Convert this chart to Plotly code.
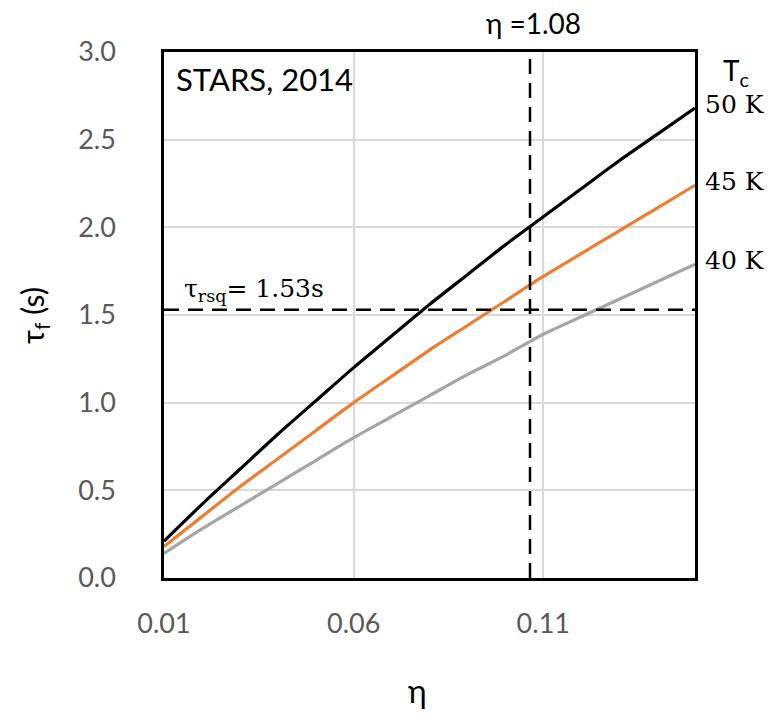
import plotly.graph_objects as go

eta = [0.01, 0.02, 0.03, 0.04, 0.05, 0.06, 0.07, 0.08, 0.09, 0.10, 0.11, 0.12, 0.13, 0.14, 0.15]
tau_50K = [0.21, 0.42, 0.62, 0.82, 1.01, 1.20, 1.38, 1.56, 1.73, 1.90, 2.06, 2.22, 2.38, 2.53, 2.68]
tau_45K = [0.18, 0.35, 0.52, 0.68, 0.84, 1.00, 1.15, 1.30, 1.44, 1.58, 1.72, 1.85, 1.98, 2.11, 2.24]
tau_40K = [0.14, 0.28, 0.41, 0.54, 0.67, 0.80, 0.92, 1.04, 1.16, 1.27, 1.39, 1.49, 1.59, 1.69, 1.79]
series_names = ["50 K", "45 K", "40 K"]
series_colors = ["#000000", "#ED7D31", "#A5A5A5"]

x_ticks = [0.01, 0.06, 0.11]
x_tick_text = ["0.01", "0.06", "0.11"]
y_ticks = [0.0, 0.5, 1.0, 1.5, 2.0, 2.5, 3.0]
y_tick_text = ["0.0", "0.5", "1.0", "1.5", "2.0", "2.5", "3.0"]

eta_mark = 0.1065
tau_rsq = 1.53

fig = go.Figure()
for ys, name, col in zip([tau_50K, tau_45K, tau_40K], series_names, series_colors):
    fig.add_trace(go.Scatter(x=eta, y=ys, mode="lines", name=name,
                             line=dict(color=col, width=3.2, shape="spline", smoothing=0.8),
                             showlegend=False))

# reference dashed lines
fig.add_trace(go.Scatter(x=[eta[0], eta[-1]], y=[tau_rsq, tau_rsq], mode="lines",
                         line=dict(color="black", width=2.5, dash="15px,9px"), showlegend=False))
fig.add_trace(go.Scatter(x=[eta_mark, eta_mark], y=[0, 3], mode="lines",
                         line=dict(color="black", width=2.5, dash="15px,9px"), showlegend=False))

serif = "DejaVu Serif"
sans = "Lato"

annotations = [
    dict(x=0.0, y=1.0, xref="paper", yref="paper", xanchor="left", yanchor="top",
         xshift=10, yshift=-6, text="STARS, 2014", showarrow=False,
         font=dict(family=sans, size=31, color="black")),
    dict(x=eta_mark, y=1.0, xref="x", yref="paper", xanchor="center", yanchor="bottom",
         yshift=10, xshift=3, text="η =1.08", showarrow=False,
         font=dict(family=sans, size=28, color="black")),
    dict(x=eta[0], y=tau_rsq, xref="x", yref="y", xanchor="left", yanchor="bottom",
         xshift=18, yshift=2, text="τ<sub>rsq</sub>= 1.53s", showarrow=False,
         font=dict(family=serif, size=25, color="black")),
    dict(x=1.0, y=1.0, xref="paper", yref="paper", xanchor="left", yanchor="middle",
         xshift=26, yshift=-20, text="T<sub>c</sub>", showarrow=False,
         font=dict(family=sans, size=28, color="black")),
    dict(x=-0.245, y=0.5, xref="paper", yref="paper", xanchor="center", yanchor="middle",
         text="τ<sub>f</sub> (s)", textangle=-90, showarrow=False,
         font=dict(family=sans, size=30, color="black")),
    dict(x=0.5, y=0, xref="paper", yref="paper", xanchor="center", yanchor="middle",
         yshift=-112, xshift=-12, text="η", showarrow=False,
         font=dict(family=sans, size=32, color="black")),
]
for ys, name in zip([tau_50K, tau_45K, tau_40K], series_names):
    annotations.append(dict(x=eta[-1], y=ys[-1], xref="x", yref="y", xanchor="left",
                            yanchor="middle", xshift=8, yshift=4, text=name, showarrow=False,
                            font=dict(family=serif, size=25, color="black")))

fig.update_layout(
    width=771, height=713,
    margin=dict(l=164, r=76, t=52, b=135),
    plot_bgcolor="white", paper_bgcolor="white",
    annotations=annotations,
    xaxis=dict(range=[0.01, 0.15], tickvals=x_ticks, ticktext=x_tick_text,
               showgrid=True, gridcolor="#D9D9D9", gridwidth=1.5,
               showline=True, linecolor="black", linewidth=2.5, mirror=True,
               zeroline=False, ticks="", ticklabelstandoff=20,
               tickfont=dict(family=sans, size=27, color="#595959")),
    yaxis=dict(range=[0, 3], tickvals=y_ticks, ticktext=y_tick_text,
               showgrid=True, gridcolor="#D9D9D9", gridwidth=1.5,
               showline=True, linecolor="black", linewidth=2.5, mirror=True,
               zeroline=False, ticks="", ticklabelstandoff=40,
               tickfont=dict(family=sans, size=27, color="#595959")),
)

fig.write_html("out.html")
